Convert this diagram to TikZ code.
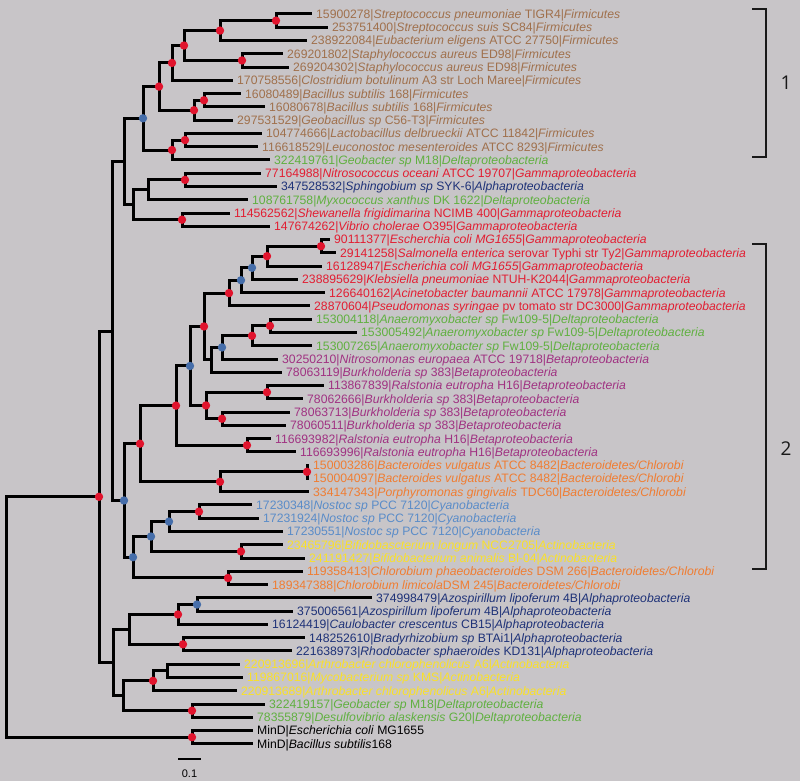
\documentclass[tikz,border=0pt]{standalone}
\usepackage{fontspec}
\setmainfont{Liberation Sans}
\newfontfamily\bigfont{Open Sans}
\definecolor{bgc}{RGB}{200,197,200}
\definecolor{firm}{RGB}{160,112,76}
\definecolor{delta}{RGB}{96,176,64}
\definecolor{gamma}{RGB}{226,30,50}
\definecolor{alpha}{RGB}{30,50,120}
\definecolor{beta}{RGB}{160,50,130}
\definecolor{bact}{RGB}{240,125,50}
\definecolor{cyano}{RGB}{90,140,200}
\definecolor{actino}{RGB}{250,225,40}
\definecolor{reddot}{RGB}{225,20,45}
\definecolor{bluedot}{RGB}{70,110,170}
\newcommand\spc[1]{\textit{#1}}
\newcommand\labfont{\fontsize{12.2}{14}\selectfont}
\newcommand\leaf[5]{\coordinate (#1) at (#2,#3);
  \node[lab,text=#4] (t#1) at ([xshift=4pt,yshift=-4.4pt]#1) {#5};}
\begin{document}
\begin{tikzpicture}[x=1pt,y=-1pt,
  lab/.style={anchor=base west,inner sep=0pt,font=\labfont},
  br/.style={line width=3pt,line join=miter},
  brk/.style={line width=2.5pt,line join=miter,black!90},
  rdot/.style={fill=reddot},
  bdot/.style={fill=bluedot}]
\fill[bgc] (0,0) rectangle (800,781);
\useasboundingbox (0,0) rectangle (800,781);
% leaves
\leaf{L1}{312}{14}{firm}{15900278|\spc{Streptococcus pneumoniae} TIGR4|\spc{Firmicutes}}
\leaf{L2}{328}{27.27}{firm}{253751400|\spc{Streptococcus suis} SC84|\spc{Firmicutes}}
\leaf{L3}{307}{40.54}{firm}{238922084|\spc{Eubacterium eligens} ATCC 27750|\spc{Firmicutes}}
\leaf{L4}{283}{53.81}{firm}{269201802|\spc{Staphylococcus aureus} ED98|\spc{Firmicutes}}
\leaf{L5}{289}{67.08}{firm}{269204302|\spc{Staphylococcus aureus} ED98|\spc{Firmicutes}}
\leaf{L6}{233}{80.35}{firm}{170758556|\spc{Clostridium botulinum} A3 str Loch Maree|\spc{Firmicutes}}
\leaf{L7}{241}{93.62}{firm}{16080489|\spc{Bacillus subtilis} 168|\spc{Firmicutes}}
\leaf{L8}{265}{106.89}{firm}{16080678|\spc{Bacillus subtilis} 168|\spc{Firmicutes}}
\leaf{L9}{233}{120.16}{firm}{297531529|\spc{Geobacillus sp} C56-T3|\spc{Firmicutes}}
\leaf{L10}{262}{133.43}{firm}{104774666|\spc{Lactobacillus delbrueckii} ATCC 11842|\spc{Firmicutes}}
\leaf{L11}{258}{146.7}{firm}{116618529|\spc{Leuconostoc mesenteroides} ATCC 8293|\spc{Firmicutes}}
\leaf{L12}{270}{159.97}{delta}{322419761|\spc{Geobacter sp} M18|\spc{Deltaproteobacteria}}
\leaf{L13}{261}{173.24}{gamma}{77164988|\spc{Nitrosococcus oceani} ATCC 19707|\spc{Gammaproteobacteria}}
\leaf{L14}{277}{186.51}{alpha}{347528532|\spc{Sphingobium sp} SYK-6|\spc{Alphaproteobacteria}}
\leaf{L15}{248}{199.78}{delta}{108761758|\spc{Myxococcus xanthus} DK 1622|\spc{Deltaproteobacteria}}
\leaf{L16}{230}{213.05}{gamma}{114562562|\spc{Shewanella frigidimarina} NCIMB 400|\spc{Gammaproteobacteria}}
\leaf{L17}{270}{226.32}{gamma}{147674262|\spc{Vibrio cholerae} O395|\spc{Gammaproteobacteria}}
\leaf{L18}{330}{239.59}{gamma}{90111377|\spc{Escherchia coli MG1655}|\spc{Gammaproteobacteria}}
\leaf{L19}{336}{252.86}{gamma}{29141258|\spc{Salmonella enterica} serovar Typhi str Ty2|\spc{Gammaproteobacteria}}
\leaf{L20}{322}{266.13}{gamma}{16128947|\spc{Escherichia coli MG1655}|\spc{Gammaproteobacteria}}
\leaf{L21}{298}{279.4}{gamma}{238895629|\spc{Klebsiella pneumoniae} NTUH-K2044|\spc{Gammaproteobacteria}}
\leaf{L22}{325}{292.67}{gamma}{126640162|\spc{Acinetobacter baumannii} ATCC 17978|\spc{Gammaproteobacteria}}
\leaf{L23}{310}{305.94}{gamma}{28870604|\spc{Pseudomonas syringae} pv tomato str DC3000|\spc{Gammaproteobacteria}}
\leaf{L24}{312}{319.21}{delta}{153004118|\spc{Anaeromyxobacter sp} Fw109-5|\spc{Deltaproteobacteria}}
\leaf{L25}{357}{332.48}{delta}{153005492|\spc{Anaeromyxobacter sp} Fw109-5|\spc{Deltaproteobacteria}}
\leaf{L26}{312}{345.75}{delta}{153007265|\spc{Anaeromyxobacter sp} Fw109-5|\spc{Deltaproteobacteria}}
\leaf{L27}{278}{359.02}{beta}{30250210|\spc{Nitrosomonas europaea} ATCC 19718|\spc{Betaproteobacteria}}
\leaf{L28}{282}{372.29}{beta}{78063119|\spc{Burkholderia sp} 383|\spc{Betaproteobacteria}}
\leaf{L29}{324}{385.56}{beta}{113867839|\spc{Ralstonia eutropha} H16|\spc{Betaproteobacteria}}
\leaf{L30}{303}{398.83}{beta}{78062666|\spc{Burkholderia sp} 383|\spc{Betaproteobacteria}}
\leaf{L31}{290}{412.1}{beta}{78063713|\spc{Burkholderia sp} 383|\spc{Betaproteobacteria}}
\leaf{L32}{286}{425.37}{beta}{78060511|\spc{Burkholderia sp} 383|\spc{Betaproteobacteria}}
\leaf{L33}{271}{438.64}{beta}{116693982|\spc{Ralstonia eutropha} H16|\spc{Betaproteobacteria}}
\leaf{L34}{296}{451.91}{beta}{116693996|\spc{Ralstonia eutropha} H16|\spc{Betaproteobacteria}}
\leaf{L35}{309}{465.18}{bact}{150003286|\spc{Bacteroides vulgatus} ATCC 8482|\spc{Bacteroidetes/Chlorobi}}
\leaf{L36}{309}{478.45}{bact}{150004097|\spc{Bacteroides vulgatus} ATCC 8482|\spc{Bacteroidetes/Chlorobi}}
\leaf{L37}{309}{491.72}{bact}{334147343|\spc{Porphyromonas gingivalis} TDC60|\spc{Bacteroidetes/Chlorobi}}
\leaf{L38}{252}{504.99}{cyano}{17230348|\spc{Nostoc sp} PCC 7120|\spc{Cyanobacteria}}
\leaf{L39}{259}{518.26}{cyano}{17231924|\spc{Nostoc sp} PCC 7120|\spc{Cyanobacteria}}
\leaf{L40}{283}{531.53}{cyano}{17230551|\spc{Nostoc sp} PCC 7120|\spc{Cyanobacteria}}
\leaf{L41}{283}{544.8}{actino}{23465796|\spc{Bifidobascterium longum} NCC2705|\spc{Actinobacteria}}
\leaf{L42}{305}{558.07}{actino}{241191427|\spc{Bifidobacterium animalis} Bl-04|\spc{Actinobacteria}}
\leaf{L43}{303}{571.34}{bact}{119358413|\spc{Chlorobium phaeobacteroides} DSM 266|\spc{Bacteroidetes/Chlorobi}}
\leaf{L44}{268}{584.61}{bact}{189347388|\spc{Chlorobium limicola}DSM 245|\spc{Bacteroidetes/Chlorobi}}
\leaf{L45}{372}{597.88}{alpha}{374998479|\spc{Azospirillum lipoferum} 4B|\spc{Alphaproteobacteria}}
\leaf{L46}{293}{611.15}{alpha}{375006561|\spc{Azospirillum lipoferum} 4B|\spc{Alphaproteobacteria}}
\leaf{L47}{268}{624.42}{alpha}{16124419|\spc{Caulobacter crescentus} CB15|\spc{Alphaproteobacteria}}
\leaf{L48}{305}{637.69}{alpha}{148252610|\spc{Bradyrhizobium sp} BTAi1|\spc{Alphaproteobacteria}}
\leaf{L49}{292}{650.96}{alpha}{221638973|\spc{Rhodobacter sphaeroides} KD131|\spc{Alphaproteobacteria}}
\leaf{L50}{240}{664.23}{actino}{220913696|\spc{Arthrobacter chlorophenolicus} A6|\spc{Actinobacteria}}
\leaf{L51}{243}{677.5}{actino}{119867016|\spc{Mycobacterium sp} KMS|\spc{Actinobacteria}}
\leaf{L52}{237}{690.77}{actino}{220913689|\spc{Arthrobacter chlorophenolicus} A6|\spc{Actinobacteria}}
\leaf{L53}{265}{704.04}{delta}{322419157|\spc{Geobacter sp} M18|\spc{Deltaproteobacteria}}
\leaf{L54}{253}{717.31}{delta}{78355879|\spc{Desulfovibrio alaskensis} G20|\spc{Deltaproteobacteria}}
\leaf{L55}{253}{730.58}{black}{MinD|\spc{Escherichia coli} MG1655}
\leaf{L56}{253}{743.85}{black}{MinD|\spc{Bacillus subtilis}168}
% internal nodes
\coordinate (A) at (276,20.64);
\coordinate (B) at (220,30.59);
\coordinate (C) at (242,60.45);
\coordinate (D) at (184,45.52);
\coordinate (E) at (172,62.94);
\coordinate (F) at (204,100.26);
\coordinate (G) at (194,110.21);
\coordinate (H) at (159,86.57);
\coordinate (I) at (185,140.07);
\coordinate (J) at (172,150.02);
\coordinate (K) at (143,118.3);
\coordinate (P) at (185,179.88);
\coordinate (O) at (148,189.83);
\coordinate (Q) at (182,219.69);
\coordinate (N) at (133,204.76);
\coordinate (L) at (124,161.53);
\coordinate (AN) at (321,246.23);
\coordinate (AM) at (267,256.18);
\coordinate (AL) at (252,267.79);
\coordinate (AK) at (241,280.23);
\coordinate (AG) at (229,293.09);
\coordinate (AJ) at (270,325.85);
\coordinate (AI) at (252,335.8);
\coordinate (AH) at (222,347.41);
\coordinate (AF) at (211,359.85);
\coordinate (AB) at (204,326.47);
\coordinate (AD) at (267,392.2);
\coordinate (AE) at (222,418.74);
\coordinate (AC) at (206,405.47);
\coordinate (Z) at (190,365.97);
\coordinate (AA) at (247,445.28);
\coordinate (X) at (176,405.63);
\coordinate (BP) at (307,471.82);
\coordinate (Y) at (220,481.77);
\coordinate (V) at (140,443.7);
\coordinate (AS) at (199,511.63);
\coordinate (AQ) at (169,521.58);
\coordinate (AR) at (241,551.44);
\coordinate (AO) at (151,536.51);
\coordinate (AP) at (228,577.98);
\coordinate (W) at (133,557.25);
\coordinate (S) at (124,500.48);
\coordinate (R) at (112,331.0);
\coordinate (AX) at (197,604.52);
\coordinate (AV) at (178,614.47);
\coordinate (AW) at (183,644.33);
\coordinate (AT) at (129,629.4);
\coordinate (BA) at (167,670.87);
\coordinate (AY) at (153,680.82);
\coordinate (AZ) at (192,710.68);
\coordinate (AU) at (123,695.75);
\coordinate (U) at (113,662.58);
\coordinate (T) at (99,496.79);
\coordinate (MD) at (192,737.22);
\coordinate (Root) at (6,617);
% branches
\foreach \p/\a/\b in {A/L1/L2,B/A/L3,C/L4/L5,D/B/C,E/D/L6,F/L7/L8,G/F/L9,H/E/G,
  I/L10/L11,J/I/L12,K/H/J,P/L13/L14,O/P/L15,Q/L16/L17,N/O/Q,L/K/N,
  AN/L18/L19,AM/AN/L20,AL/AM/L21,AK/AL/L22,AG/AK/L23,AJ/L24/L25,AI/AJ/L26,
  AH/AI/L27,AF/AH/L28,AB/AG/AF,AD/L29/L30,AE/L31/L32,AC/AD/AE,Z/AB/AC,
  AA/L33/L34,X/Z/AA,BP/L35/L36,Y/BP/L37,V/X/Y,AS/L38/L39,AQ/AS/L40,
  AR/L41/L42,AO/AQ/AR,AP/L43/L44,W/AO/AP,S/V/W,R/L/S,AX/L45/L46,AV/AX/L47,
  AW/L48/L49,AT/AV/AW,BA/L50/L51,AY/BA/L52,AZ/L53/L54,AU/AY/AZ,U/AT/AU,
  T/R/U,MD/L55/L56,Root/T/MD}
  {\draw[br] (\p) |- (\a); \draw[br] (\p) |- (\b);}
% support dots
\foreach \n in {A,B,C,D,E,F,G,H,I,J,P,Q,T,V,X,Y,BP,AA,AC,AD,AE,AB,AG,AM,AN,
  AI,AJ,AP,AR,AS,AV,AW,AY,AZ,MD}
  {\fill[rdot] (\n) circle (4.2pt);}
\foreach \n in {K,S,Z,AH,AK,AL,W,AO,AQ,AX}
  {\fill[bdot] (\n) circle (4.2pt);}
% brackets
\draw[brk] (752,9) -- (766,9) -- (766,157) -- (752,157);
\node[font=\bigfont\fontsize{19}{22}\selectfont,text=black!90] (g1) at (786,83) {1};
\draw[brk] (752,244) -- (766,244) -- (766,569) -- (752,569);
\node[font=\bigfont\fontsize{19}{22}\selectfont,text=black!90] (g2) at (786,449) {2};
% scale bar
\coordinate (sb1) at (178,759);
\coordinate (sb2) at (201,759);
\draw[line width=2pt] (sb1) -- (sb2);
\node[font=\labfont\fontsize{11}{13}\selectfont] (sbl) at (189.5,774) {0.1};
\end{tikzpicture}
\end{document}
